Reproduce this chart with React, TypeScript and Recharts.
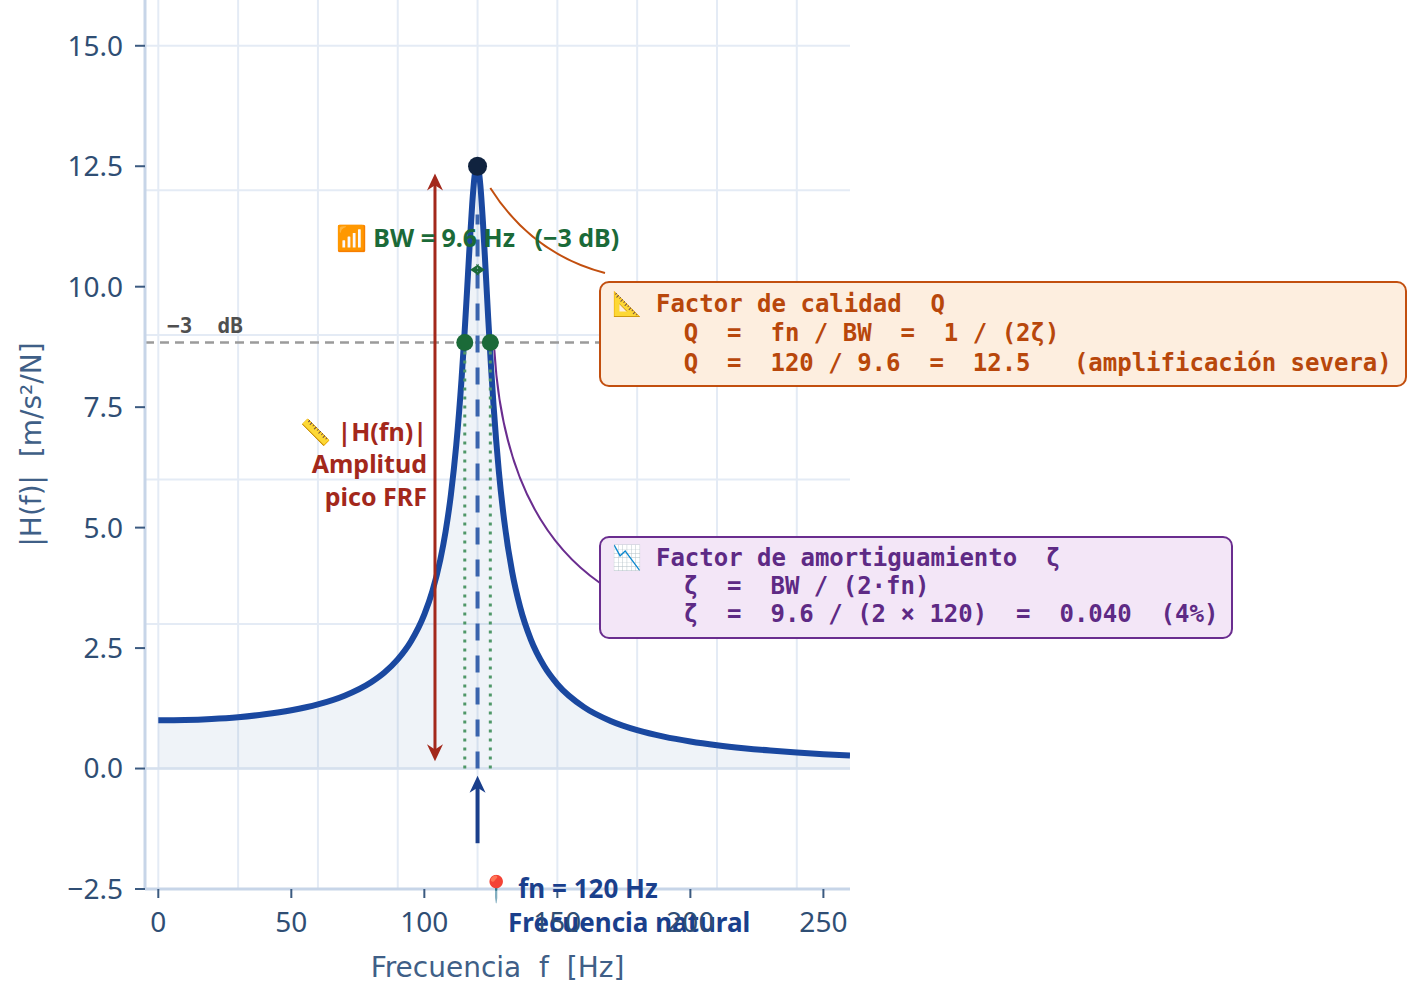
import React from "react";
import {
    Area,
    CartesianGrid,
    ComposedChart,
    ReferenceDot,
    ReferenceLine,
    XAxis,
    YAxis,
} from "recharts";

// FRF magnitude
const freqHz = [
    0, 10, 20, 30, 40, 50, 60, 70, 80, 85, 90, 95, 100, 103, 106, 108, 110, 112, 114,
    115, 116, 117, 118, 119, 120, 121, 122, 123, 124, 125, 126, 128, 130, 133, 136,
    140, 145, 150, 160, 170, 180, 190, 200, 210, 220, 230, 240, 250, 260,
];
const frfMag = [
    1.0, 1.007, 1.029, 1.066, 1.125, 1.209, 1.331, 1.512, 1.792, 1.994, 2.265, 2.641,
    3.198, 3.676, 4.333, 4.922, 5.69, 6.714, 8.089, 8.931, 9.864, 10.833, 11.719,
    12.337, 12.5, 12.138, 11.363, 10.377, 9.354, 8.397, 7.546, 6.17, 5.154, 4.082,
    3.35, 2.681, 2.127, 1.75, 1.274, 0.987, 0.796, 0.661, 0.561, 0.484, 0.423, 0.373,
    0.333, 0.299, 0.27,
];

const xTicks = [0, 50, 100, 150, 200, 250];
const yTicks = [-2.5, 0, 2.5, 5, 7.5, 10, 12.5, 15];
const gridX = [0, 30, 60, 90, 120, 150, 180, 210, 240];
const gridY = [0, 3, 6, 9, 12, 15];
const xDomain = [-5, 260];
const yDomain = [-2.5, 15.95];

const fnHz = 120;
const peakMag = 12.5;
const halfPowerMag = 8.84;
const halfPowerHz = [115.2, 124.8];
const ampArrow = { f: 104, from: 0.15, to: 12.35 };
const fnArrow = { from: -1.55, to: -0.15 };
const bwArrow = { from: 117.2, to: 122.8, at: 10.35 };

const qLines = [
    "📐 Factor de calidad  Q",
    "     Q  =  fn / BW  =  1 / (2ζ)",
    "     Q  =  120 / 9.6  =  12.5   (amplificación severa)",
];
const zetaLines = [
    "📉 Factor de amortiguamiento  ζ",
    "     ζ  =  BW / (2·fn)",
    "     ζ  =  9.6 / (2 × 120)  =  0.040  (4%)",
];
const ampLines = ["📏 |H(fn)|", "Amplitud", "pico FRF"];
const bwLabel = "📶 BW = 9.6 Hz   (−3 dB)";
const fnLines = ["📍 fn = 120 Hz", "Frecuencia natural"];

const curve = freqHz.map((f, i) => ({ f, h: frfMag[i] }));

const SANS = "'Noto Sans', sans-serif";
const MONO = "'DejaVu Sans Mono', monospace";
const TITLE = "'DejaVu Sans', sans-serif";

const RED = "#a3281b";
const GREEN = "#1b6a38";
const BLUE = "#1a3f8c";
const ORANGE = "#c24f0f";
const PURPLE = "#6a2d8f";

const orangeBox = { left: 599, top: 281, width: 808, height: 106 };
const purpleBox = { left: 599, top: 536, width: 634, height: 103 };

function formatY(v: number) {
    return v < 0 ? `−${Math.abs(v).toFixed(1)}` : v.toFixed(1);
}

function arrowShape(color: string, width: number, both: boolean, len: number, half: number) {
    return (p: any) => {
        const { x1, y1, x2, y2 } = p;
        const d = Math.hypot(x2 - x1, y2 - y1) || 1;
        const ux = (x2 - x1) / d;
        const uy = (y2 - y1) / d;
        const head = (tx: number, ty: number, sx: number, sy: number) => {
            const bx = tx - sx * len;
            const by = ty - sy * len;
            const nx = -sy * half;
            const ny = sx * half;
            const mx = tx - sx * len * 0.7;
            const my = ty - sy * len * 0.7;
            return `M${tx},${ty} L${bx + nx},${by + ny} L${mx},${my} L${bx - nx},${by - ny} Z`;
        };
        const sx = both ? x1 + ux * len * 0.6 : x1;
        const sy = both ? y1 + uy * len * 0.6 : y1;
        return (
            <g>
                <line
                    x1={sx}
                    y1={sy}
                    x2={x2 - ux * len * 0.6}
                    y2={y2 - uy * len * 0.6}
                    stroke={color}
                    strokeWidth={width}
                />
                <path d={head(x2, y2, ux, uy)} fill={color} />
                {both && <path d={head(x1, y1, -ux, -uy)} fill={color} />}
            </g>
        );
    };
}

function connectorShape(color: string, end: { x: number; y: number }, ctrl: { x: number; y: number }) {
    return (p: any) => (
        <path
            d={`M${p.cx},${p.cy} Q${ctrl.x},${ctrl.y} ${end.x},${end.y}`}
            stroke={color}
            strokeWidth={2}
            fill="none"
        />
    );
}

type TextLine = { text: string; dx: number; dy: number };

function textShape(
    lines: TextLine[],
    opts: { color: string; size: number; family: string; anchor: "start" | "middle" | "end" },
) {
    return (p: any) => (
        <text
            fill={opts.color}
            fontSize={opts.size}
            fontFamily={opts.family}
            fontWeight={700}
            textAnchor={opts.anchor}
            style={{ whiteSpace: "pre" }}
        >
            {lines.map((l, i) => (
                <tspan key={i} x={p.cx + l.dx} y={p.cy + l.dy}>
                    {l.text}
                </tspan>
            ))}
        </text>
    );
}

function YTitle({ viewBox }: any) {
    const x = viewBox.x + 31;
    const y = viewBox.y + viewBox.height / 2;
    return (
        <text
            x={x}
            y={y}
            transform={`rotate(-90, ${x}, ${y})`}
            textAnchor="middle"
            dominantBaseline="central"
            fill="#3f5f87"
            fontSize={28}
            fontFamily={TITLE}
            style={{ whiteSpace: "pre" }}
        >
            |H(f)|  [m/s²/N]
        </text>
    );
}

function XTitle({ viewBox }: any) {
    return (
        <text
            x={viewBox.x + viewBox.width / 2}
            y={viewBox.y + 88}
            textAnchor="middle"
            fill="#3f5f87"
            fontSize={28}
            fontFamily={TITLE}
            style={{ whiteSpace: "pre" }}
        >
            Frecuencia  f  [Hz]
        </text>
    );
}

function NoteBox({ box, lines, color, border, bg, lineHeight, padTop }: any) {
    return (
        <div
            style={{
                position: "absolute",
                left: box.left,
                top: box.top,
                width: box.width,
                height: box.height,
                boxSizing: "border-box",
                border: `2.5px solid ${border}`,
                borderRadius: 10,
                background: bg,
                padding: `${padTop}px 0 0 10.5px`,
                color,
                fontFamily: MONO,
                fontWeight: 700,
                fontSize: 24,
                lineHeight: `${lineHeight}px`,
                whiteSpace: "pre",
            }}
        >
            {lines.join("\n")}
        </div>
    );
}

export default function App() {
    const tickStyle = { fill: "#2f4e74", fontSize: 28, fontFamily: SANS };
    return (
        <div style={{ position: "absolute", left: 0, top: 0, width: 1411, height: 984, background: "#ffffff" }}>
            <ComposedChart
                width={1411}
                height={984}
                data={curve}
                margin={{ top: 0, right: 561, left: 0, bottom: 0 }}
            >
                <XAxis xAxisId="grid" dataKey="f" type="number" domain={xDomain} ticks={gridX} hide allowDataOverflow />
                <YAxis yAxisId="grid" type="number" domain={yDomain} ticks={gridY} hide allowDataOverflow />
                <CartesianGrid xAxisId="grid" yAxisId="grid" stroke="#e4ebf5" strokeWidth={2} syncWithTicks />
                <XAxis
                    dataKey="f"
                    type="number"
                    domain={xDomain}
                    ticks={xTicks}
                    interval={0}
                    allowDataOverflow
                    height={95}
                    axisLine={{ stroke: "#c7d5e8", strokeWidth: 3 }}
                    tickLine={{ stroke: "#3b5a80", strokeWidth: 2 }}
                    tickSize={9}
                    tickMargin={14}
                    tick={tickStyle}
                    label={{ content: XTitle }}
                />
                <YAxis
                    type="number"
                    domain={yDomain}
                    ticks={yTicks}
                    interval={0}
                    allowDataOverflow
                    width={145}
                    axisLine={{ stroke: "#c7d5e8", strokeWidth: 3 }}
                    tickLine={{ stroke: "#3b5a80", strokeWidth: 2 }}
                    tickSize={10}
                    tickMargin={12}
                    tick={tickStyle}
                    tickFormatter={formatY}
                    label={{ content: YTitle }}
                />

                <ReferenceLine y={0} stroke="#d6e0ee" strokeWidth={2.5} />

                <Area
                    type="monotone"
                    dataKey="h"
                    baseValue={0}
                    stroke="#1a48a0"
                    strokeWidth={6}
                    strokeLinejoin="round"
                    fill="#1f4e9c"
                    fillOpacity={0.07}
                    dot={false}
                    activeDot={false}
                    isAnimationActive={false}
                />

                <ReferenceLine y={halfPowerMag} stroke="#9b9b9b" strokeWidth={2.5} strokeDasharray="9 6" />
                {halfPowerHz.map((f) => (
                    <ReferenceLine
                        key={f}
                        segment={[{ x: f, y: 0 }, { x: f, y: halfPowerMag }]}
                        stroke="#4f9768"
                        strokeWidth={3}
                        strokeDasharray="3 6"
                    />
                ))}
                <ReferenceLine
                    segment={[{ x: fnHz, y: 0 }, { x: fnHz, y: 11.5 }]}
                    stroke="#3a64ad"
                    strokeWidth={4}
                    strokeDasharray="17 15"
                />

                <ReferenceLine
                    segment={[{ x: ampArrow.f, y: ampArrow.from }, { x: ampArrow.f, y: ampArrow.to }]}
                    shape={arrowShape(RED, 3, true, 17, 8)}
                />
                <ReferenceLine
                    segment={[{ x: fnHz, y: fnArrow.from }, { x: fnHz, y: fnArrow.to }]}
                    shape={arrowShape(BLUE, 4, false, 17, 8)}
                />
                <ReferenceLine
                    segment={[{ x: bwArrow.from, y: bwArrow.at }, { x: bwArrow.to, y: bwArrow.at }]}
                    shape={arrowShape(GREEN, 2.5, true, 9, 6)}
                />

                <ReferenceDot
                    x={124.8}
                    y={12.05}
                    shape={connectorShape(ORANGE, { x: orangeBox.left + 6, y: orangeBox.top - 8 }, { x: 532, y: 254 })}
                />
                <ReferenceDot
                    x={126.3}
                    y={8.7}
                    shape={connectorShape(PURPLE, { x: purpleBox.left + 1, y: purpleBox.top + 47 }, { x: 504, y: 516 })}
                />

                {halfPowerHz.map((f) => (
                    <ReferenceDot key={`hp-${f}`} x={f} y={halfPowerMag} r={8.5} fill={GREEN} stroke="none" />
                ))}
                <ReferenceDot x={fnHz} y={peakMag} r={9.5} fill="#10233f" stroke="none" />

                <ReferenceDot
                    x={0}
                    y={halfPowerMag}
                    shape={textShape([{ text: "−3  dB", dx: 8.7, dy: -9.6 }], {
                        color: "#4f4f4f",
                        size: 21,
                        family: MONO,
                        anchor: "start",
                    })}
                />
                <ReferenceDot
                    x={ampArrow.f}
                    y={6.25}
                    shape={textShape(
                        ampLines.map((t, i) => ({ text: t, dx: -8, dy: -26.5 + i * 32.5 })),
                        { color: RED, size: 25, family: SANS, anchor: "end" },
                    )}
                />
                <ReferenceDot
                    x={fnHz}
                    y={11.0}
                    shape={textShape([{ text: bwLabel, dx: 0, dy: 8 }], {
                        color: GREEN,
                        size: 25,
                        family: SANS,
                        anchor: "middle",
                    })}
                />
                <ReferenceDot
                    x={fnHz}
                    y={fnArrow.from}
                    shape={textShape(
                        [
                            { text: fnLines[0], dx: 2, dy: 55 },
                            { text: fnLines[1], dx: 30.5, dy: 89 },
                        ],
                        { color: BLUE, size: 26, family: SANS, anchor: "start" },
                    )}
                />
            </ComposedChart>

            <NoteBox
                box={orangeBox}
                lines={qLines}
                color="#b8470b"
                border={ORANGE}
                bg="#fdeedf"
                lineHeight={29.5}
                padTop={6.5}
            />
            <NoteBox
                box={purpleBox}
                lines={zetaLines}
                color="#5e2a85"
                border={PURPLE}
                bg="#f3e6f7"
                lineHeight={28}
                padTop={5.5}
            />
        </div>
    );
}
